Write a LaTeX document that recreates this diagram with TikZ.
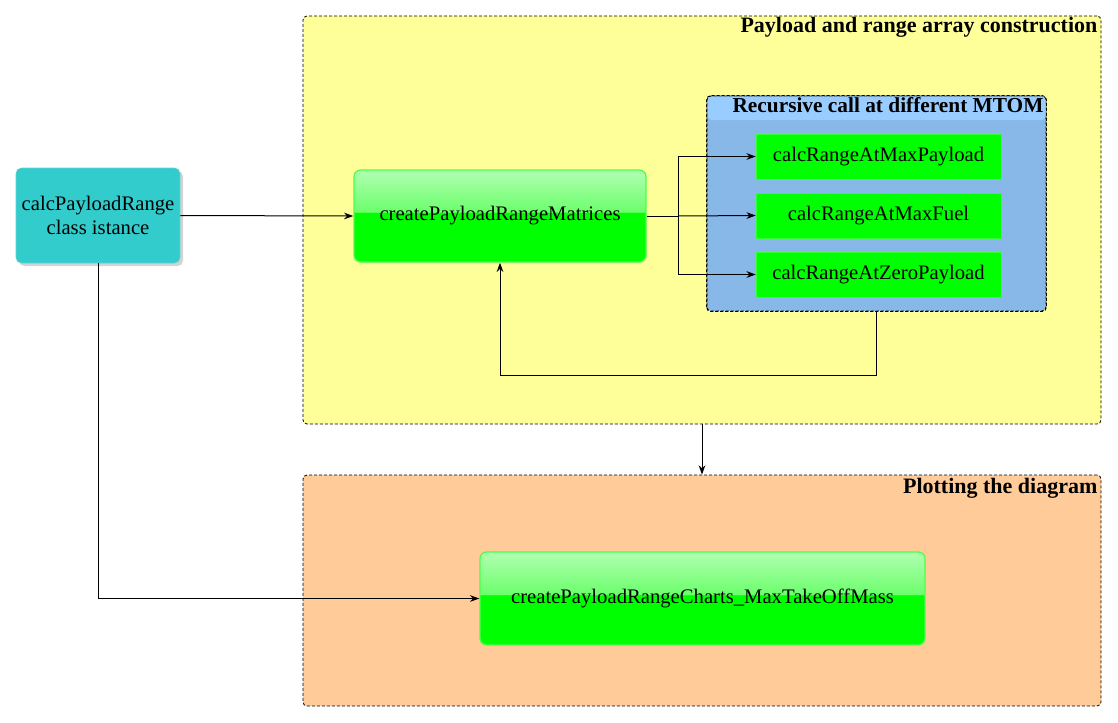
\documentclass[tikz,border=0pt]{standalone}
\usepackage{fontspec}
\setmainfont{Liberation Serif}
\usetikzlibrary{arrows.meta,shadows}
\definecolor{cyellow}{HTML}{FFFF99}
\definecolor{corange}{HTML}{FFCC99}
\definecolor{cblue}{HTML}{88B8E8}
\definecolor{cbluehead}{HTML}{99CCFF}
\definecolor{cteal}{HTML}{33CCCC}
\definecolor{cgreen}{HTML}{00FF00}
\definecolor{cgreenmid}{HTML}{6CFF6C}
\definecolor{cgreenlight}{HTML}{AEFFAE}
\pgfdeclareverticalshading{brillant}{100bp}{color(0bp)=(cgreen); color(51.8bp)=(cgreen); color(52.3bp)=(cgreenmid); color(74bp)=(cgreenlight); color(100bp)=(cgreenlight)}
\begin{document}
\begin{tikzpicture}[x=0.75pt,y=-0.75pt]
\tikzset{
  groupe/.style={draw, dashed, dash pattern=on 2.25pt off 1.5pt, rounded corners=3pt, line width=0.6pt, inner sep=0pt},
  boite/.style={draw=cgreen!70!white, line width=1pt, rounded corners=5pt, shading=brillant, font=\fontsize{15.5}{18}\selectfont},
  petite/.style={fill=cgreen, draw=cgreen!80!white, font=\fontsize{15.5}{18}\selectfont, minimum width=183.75pt, minimum height=33.75pt},
  titre/.style={font=\bfseries\fontsize{16.5}{19}\selectfont, inner sep=1pt},
  fleche/.style={-{Stealth[length=7pt,width=5pt]}, line width=0.75pt}
}
\useasboundingbox (0,0) rectangle (1118,722);
% groupes
\node[groupe, fill=cyellow, minimum width=598.5pt, minimum height=306pt] (G1) at (702,220) {};
\node[groupe, fill=corange, minimum width=598.5pt, minimum height=173.25pt] (G2) at (702,590.5) {};
\node[titre, anchor=north east] (T1) at (1099,16) {Payload and range array construction};
\node[titre, anchor=north east] (T2) at (1099,477) {Plotting the diagram};
\node[groupe, fill=cblue, minimum width=254.25pt, minimum height=161.25pt] (G3) at (876.5,203.5) {};
\fill[cbluehead, rounded corners=3pt] (707.5,96.5) -- (1045.5,96.5) -- (1045.5,120) -- (707.5,120) -- cycle;
\draw[dashed, dash pattern=on 2.25pt off 1.5pt, rounded corners=3pt, line width=0.6pt] (G3.south west) rectangle (G3.north east);
\node[titre, anchor=north east, font=\bfseries\fontsize{16}{18}\selectfont] (T3) at (1045,96) {Recursive call at different MTOM};
% noeuds
\node[fill=cteal, draw=cteal!80!white, rounded corners=4pt, drop shadow={opacity=0.35}, align=center,
  font=\fontsize{15.5}{18}\selectfont, minimum width=123pt, minimum height=71.25pt] (CPR) at (98,215.5) {calcPayloadRange\\class istance};
\node[boite, minimum width=219pt, minimum height=69pt] (PRM) at (500,216) {createPayloadRangeMatrices};
\node[petite] (RMP) at (878.5,156.5) {calcRangeAtMaxPayload};
\node[petite] (RMF) at (878.5,215.5) {calcRangeAtMaxFuel};
\node[petite] (RZP) at (878.5,274.5) {calcRangeAtZeroPayload};
\node[boite, minimum width=333.75pt, minimum height=69.75pt] (PRC) at (702.5,598.5) {createPayloadRangeCharts\_MaxTakeOffMass};
% liaisons
\coordinate (S) at (678,216);
\draw[fleche] (CPR.east) -- (PRM.west);
\draw[line width=0.75pt] (PRM.east) -- (S);
\draw[fleche] (S) |- (RMP.west);
\draw[fleche] (S) -- (RMF.west);
\draw[fleche] (S) |- (RZP.west);
\draw[fleche] (G3.south) -- ++(0,64) -| (PRM.south);
\draw[fleche] (G1.south) -- (G2.north);
\draw[fleche] (CPR.south) |- (PRC.west);
\end{tikzpicture}
\end{document}
